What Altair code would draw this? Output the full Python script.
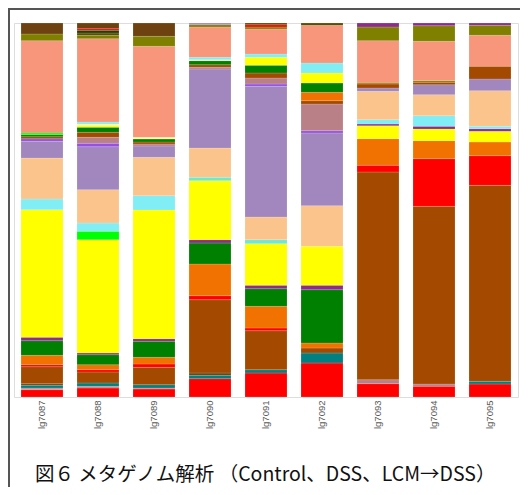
import altair as alt
import pandas as pd

# Sample names (x categories)
SAMPLES = ["lg7087", "lg7088", "lg7089", "lg7090", "lg7091",
           "lg7092", "lg7093", "lg7094", "lg7095"]

# Colour keys for taxa groups
PALETTE = {
    "red": "#FF0000", "teal": "#008080", "pink": "#C08A90", "dbrown": "#6E4210",
    "brown": "#A44A00", "orange": "#F27200", "green": "#008000", "purple": "#8E2C8E",
    "yellow": "#FFFF00", "lime": "#00FF00", "cyan": "#80EEF4", "aqua": "#70E8CC",
    "peach": "#FBC48C", "lav": "#A187BE", "violet": "#9650E6", "mauve": "#BA8088",
    "salmon": "#F7967A", "olive": "#808000", "dolive": "#5A4A00", "dgreen": "#1E4000",
    "lyellow": "#FFFF99",
}

# Segments of each bar, bottom to top (taxa colour keys and relative abundances)
S1_TAXA = ["red", "pink", "teal", "dbrown", "brown", "red", "orange", "green", "purple", "yellow",
           "cyan", "peach", "lav", "violet", "brown", "green", "lime", "salmon", "olive", "dbrown"]
S1_VALS = [22, 5, 8, 5, 51, 6, 28, 44, 10, 383, 32, 123, 50, 8, 6, 6, 5, 277, 20, 33]

S2_TAXA = ["red", "pink", "teal", "brown", "red", "orange", "green", "purple", "yellow", "lime",
           "cyan", "peach", "lav", "violet", "mauve", "brown", "green", "yellow", "lyellow", "cyan",
           "salmon", "olive", "dolive", "dgreen", "red", "dbrown"]
S2_VALS = [27, 5, 10, 33, 7, 15, 30, 5, 340, 25, 25, 100, 129, 10, 18, 15, 15, 6, 4, 6,
           250, 10, 7, 8, 5, 17]

S3_TAXA = ["red", "pink", "teal", "brown", "red", "orange", "green", "purple", "yellow", "cyan",
           "peach", "lav", "mauve", "brown", "green", "lyellow", "salmon", "olive", "dbrown"]
S3_VALS = [24, 3, 10, 52, 10, 20, 48, 8, 386, 43, 115, 34, 6, 6, 9, 5, 273, 30, 40]

S4_TAXA = ["red", "teal", "dbrown", "brown", "red", "orange", "green", "purple", "yellow", "aqua",
           "peach", "lav", "mauve", "brown", "green", "lyellow", "cyan", "salmon", "olive", "lav"]
S4_VALS = [55, 10, 7, 220, 12, 95, 63, 10, 177, 10, 88, 237, 5, 8, 12, 3, 7, 91, 7, 5]

S5_TAXA = ["red", "teal", "brown", "red", "orange", "green", "purple", "yellow", "aqua", "peach",
           "lav", "violet", "mauve", "brown", "green", "yellow", "cyan", "salmon", "olive", "red",
           "dolive"]
S5_VALS = [72, 10, 117, 8, 65, 53, 10, 125, 12, 68, 392, 7, 18, 15, 23, 24, 10, 75, 6, 7, 5]

S6_TAXA = ["red", "teal", "brown", "orange", "green", "purple", "yellow", "peach", "lav", "violet",
           "mauve", "brown", "orange", "green", "yellow", "cyan", "salmon", "dolive"]
S6_VALS = [102, 30, 15, 15, 160, 13, 117, 122, 218, 7, 80, 10, 25, 28, 30, 30, 113, 7]

S7_TAXA = ["red", "mauve", "brown", "red", "orange", "yellow", "purple", "cyan", "peach", "lav",
           "brown", "olive", "salmon", "olive", "purple"]
S7_VALS = [40, 12, 623, 20, 80, 39, 5, 13, 85, 10, 12, 3, 127, 41, 12]

S8_TAXA = ["red", "mauve", "brown", "red", "orange", "yellow", "purple", "cyan", "peach", "lav",
           "brown", "olive", "salmon", "olive", "purple"]
S8_VALS = [32, 7, 533, 143, 54, 35, 8, 32, 63, 30, 7, 5, 118, 47, 8]

S9_TAXA = ["red", "teal", "brown", "red", "orange", "yellow", "purple", "cyan", "peach", "lav",
           "brown", "salmon", "olive", "purple"]
S9_VALS = [39, 8, 588, 89, 41, 32, 8, 7, 107, 35, 38, 93, 30, 7]

CAPTION = "図６ メタゲノム解析 （Control、DSS、LCM→DSS）"

BAR_TAXA = [S1_TAXA, S2_TAXA, S3_TAXA, S4_TAXA, S5_TAXA, S6_TAXA, S7_TAXA, S8_TAXA, S9_TAXA]
BAR_VALS = [S1_VALS, S2_VALS, S3_VALS, S4_VALS, S5_VALS, S6_VALS, S7_VALS, S8_VALS, S9_VALS]

rows = []
for sample, taxa, vals in zip(SAMPLES, BAR_TAXA, BAR_VALS):
    for i, (t, v) in enumerate(zip(taxa, vals)):
        rows.append({"sample": sample, "seg": i, "taxon": t, "hex": PALETTE[t], "value": v})
df = pd.DataFrame(rows)

bars = alt.Chart(df).mark_bar(stroke="white", strokeWidth=0.3, strokeOpacity=0.5).encode(
    x=alt.X("sample:N", sort=SAMPLES,
            scale=alt.Scale(paddingInner=0.25, paddingOuter=0.125),
            axis=alt.Axis(title=None, labelAngle=-90, labelFontSize=9.5, labelColor="#595959",
                          labelFont="Liberation Sans", ticks=False, domain=False,
                          labelPadding=3)),
    y=alt.Y("value:Q", stack="normalize", axis=None, scale=alt.Scale(domain=[0, 1], nice=False)),
    color=alt.Color("hex:N", scale=None),
    order=alt.Order("seg:Q", sort="ascending"),
)

frame_df = pd.DataFrame({"k": [0]})
left_line = alt.Chart(frame_df).mark_rule(color="#555555", strokeWidth=2).encode(
    x=alt.value(-5), y=alt.value(-14), y2=alt.value(470))
top_line = alt.Chart(frame_df).mark_rule(color="#555555", strokeWidth=2).encode(
    x=alt.value(-6), x2=alt.value(510), y=alt.value(-14))

caption = alt.Chart(pd.DataFrame({"caption": [CAPTION]})).mark_text(
    align="left", baseline="middle", font="Noto Sans CJK JP", fontSize=19.5, color="#111111"
).encode(x=alt.value(21), y=alt.value(452), text="caption:N")

chart = alt.layer(bars, left_line, top_line, caption).properties(
    width=504, height=374,
    autosize=alt.AutoSizeParams(type="none"),
    padding={"left": 6, "top": 15, "right": 2, "bottom": 90},
).configure_view(stroke=None).configure(background="white")

chart.save("out.html", embed_options={"renderer": "svg", "actions": False})
